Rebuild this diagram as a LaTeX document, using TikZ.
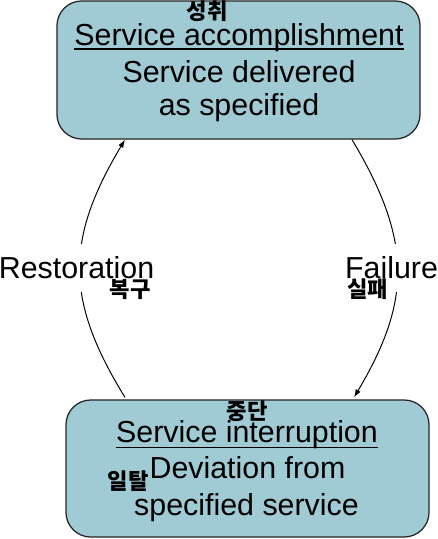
\documentclass[tikz,border=0pt]{standalone}
\usepackage{fontspec}
\setmainfont{Liberation Sans}
\newfontfamily\kr{Noto Sans CJK KR}
\usepackage{tikz}
\usetikzlibrary{arrows.meta}
\usepackage{xcolor}
\definecolor{stateblue}{RGB}{160,202,212}

\begin{document}
\begin{tikzpicture}[x=0.025cm,y=-0.025cm,>={Latex[length=2mm,width=1.4mm]},
  statebox/.style={draw=black!85,line width=0.9pt,fill=stateblue,rounded corners=0.62cm,
    minimum width=9.075cm,inner sep=0pt},
  txt/.style={font=\fontsize{21.6}{24}\selectfont,inner sep=0pt,anchor=base},
  kor/.style={font=\kr\bfseries\fontsize{15.8}{17}\selectfont,inner sep=0pt},
  lbl/.style={txt,fill=white,text height=0.85cm,text depth=0.35cm}]
\useasboundingbox (0,0) rectangle (438,539);
% states
\node[statebox,minimum height=3.45cm] (acc) at (238.5,70) {};
\node[statebox,minimum height=3.425cm] (intr) at (247.5,468.5) {};
\node[kor] (accKr) at (207,11) {성취};
\node[txt] (accT) at (239,45) {Service accomplishment};
\node[txt] (accA) at (239,82) {Service delivered};
\node[txt] (accB) at (239,115) {as specified};
\node[kor] (intrKr) at (247,411) {중단};
\node[txt] (intrT) at (247,442) {Service interruption};
\node[txt] (intrA) at (247.5,478) {Deviation from};
\node[txt] (intrB) at (246.5,515) {specified service};
\node[kor] (devKr) at (128,481) {일탈};
\draw[line width=0.9pt] ([yshift=-0.1cm]accT.base west) -- ([yshift=-0.1cm]accT.base east);
\draw[line width=0.9pt] ([yshift=-0.13cm]intrT.base west) -- ([yshift=-0.13cm]intrT.base east);
% transitions
\draw[->,line width=0.7pt] ([xshift=-3.0625cm,yshift=0.05cm]intr.north) .. controls (65,300) and (65,240) .. ([xshift=-2.8375cm]acc.south);
\draw[->,line width=0.7pt] ([xshift=2.8375cm]acc.south) .. controls (412,240) and (412,300) .. ([xshift=2.6625cm,yshift=0.05cm]intr.north);
\node[lbl] (rest) at (76.5,278) {Restoration};
\node[kor] (restKr) at (130,289) {복구};
\node[lbl] (fail) at (391.5,278) {Failure};
\node[kor] (failKr) at (367.5,289) {실패};
\end{tikzpicture}
\end{document}
